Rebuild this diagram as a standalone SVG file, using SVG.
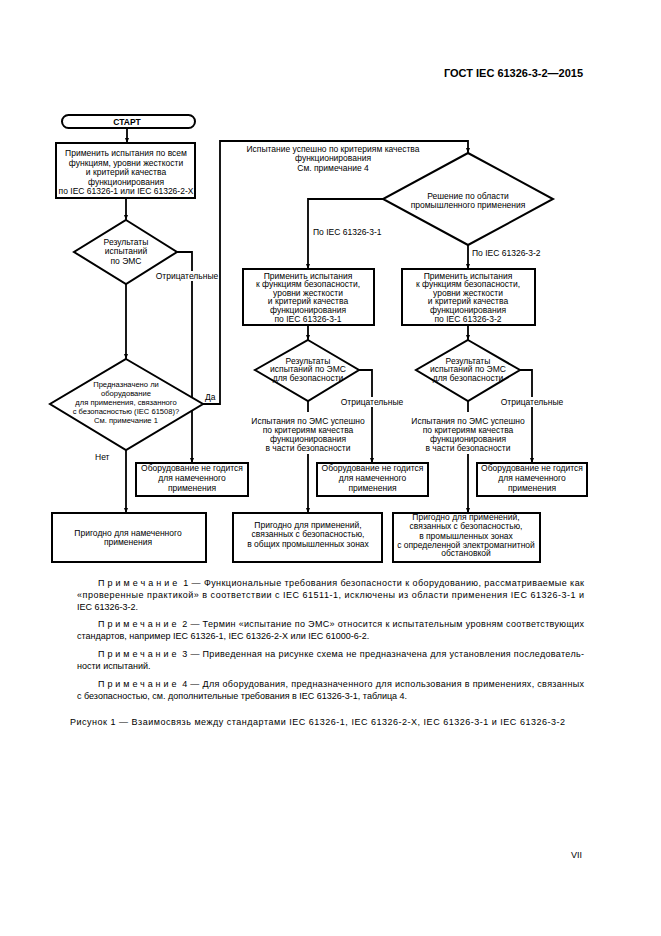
<svg xmlns="http://www.w3.org/2000/svg" width="661" height="936" viewBox="0 0 661 936">
<style>
.t{font-family:"Liberation Sans",Arial,sans-serif;font-size:8.5px;fill:#000;text-anchor:middle}
.s{font-size:7.6px}
.l{text-anchor:start}
.b{font-weight:bold}
.box{fill:#fff;stroke:#000;stroke-width:2}
.ln{fill:none;stroke:#000;stroke-width:1.8}
.arr{marker-end:url(#ah)}
.n{font-family:"Liberation Sans",Arial,sans-serif;font-size:9px;fill:#000}
.sp{letter-spacing:2.6px}
</style>
<defs>
<marker id="ah" viewBox="0 0 10 10" refX="10" refY="5" markerWidth="5" markerHeight="5" orient="auto" markerUnits="userSpaceOnUse"><path d="M0,1 L10,5 L0,9 z" fill="#000"/></marker>
</defs>
<rect width="661" height="936" fill="#fff"/>
<text class="t b" x="583" y="77" style="font-size:11px;text-anchor:end">ГОСТ IEC 61326-3-2—2015</text>

<g id="connectors">
<path class="ln arr" d="M127,128 V143"/>
<path class="ln arr" d="M126,198 V220"/>
<path class="ln arr" d="M126,284 V359"/>
<path class="ln arr" d="M177,252 H192 V463"/>
<path class="ln arr" d="M203,404 H220 V141 H468 V153"/>
<path class="ln arr" d="M383,199 H308 V269"/>
<path class="ln arr" d="M468,245 V269"/>
<path class="ln arr" d="M308,325 V340"/>
<path class="ln arr" d="M468,325 V340"/>
<path class="ln arr" d="M359,370 H372 V463"/>
<path class="ln arr" d="M520,370 H532 V463"/>
<path class="ln arr" d="M126,450 V513"/>
<path class="ln" d="M308,401 V412"/>
<path class="ln arr" d="M308,454 V513"/>
<path class="ln" d="M468,401 V412"/>
<path class="ln arr" d="M468,454 V513"/>
</g>

<g id="start">
<rect class="box" x="62" y="115" width="133" height="13" rx="6.5"/>
<text class="t b" x="127" y="124.5">СТАРТ</text>
</g>

<g id="box1">
<rect class="box" x="56" y="143" width="139" height="55"/>
<text class="t" x="126" y="156">Применить испытания по всем</text>
<text class="t" x="126" y="165.5">функциям, уровни жесткости</text>
<text class="t" x="126" y="175">и критерий качества</text>
<text class="t" x="126" y="184.5">функционирования</text>
<text class="t" x="126" y="194">по IEC 61326-1 или IEC 61326-2-X</text>
</g>

<g id="dec1">
<polygon class="box" points="126,220 177,252 126,284 74,252"/>
<text class="t" x="126" y="244.5">Результаты</text>
<text class="t" x="126" y="254">испытаний</text>
<text class="t" x="126" y="263.5">по ЭМС</text>
</g>

<g id="lbl-neg1">
<rect x="156" y="271" width="62" height="10" fill="#fff"/>
<text class="t" x="187" y="279">Отрицательные</text>
</g>

<g id="dec2">
<polygon class="box" points="126,359 203,404 126,450 50,404"/>
<text class="t s" x="126" y="386.5">Предназначено ли</text>
<text class="t s" x="126" y="395.5">оборудование</text>
<text class="t s" x="126" y="404.5">для применения, связанного</text>
<text class="t s" x="126" y="413.5">с безопасностью (IEC 61508)?</text>
<text class="t s" x="126" y="422.5">См. примечание 1</text>
</g>
<g id="lbl-yes"><text class="t l" x="205" y="400">Да</text></g>
<g id="lbl-no"><text class="t l" x="95" y="460">Нет</text></g>

<g id="lbl-success-top">
<text class="t" x="333" y="151.5">Испытание успешно по критериям качества</text>
<text class="t" x="333" y="161">функционирования</text>
<text class="t" x="333" y="170.5">См. примечание 4</text>
</g>

<g id="dec3">
<polygon class="box" points="468,153 553,199 468,245 383,199"/>
<text class="t" x="468" y="199">Решение по области</text>
<text class="t" x="468" y="208">промышленного применения</text>
</g>
<g id="lbl-31"><text class="t l" x="313" y="235">По IEC 61326-3-1</text></g>
<g id="lbl-32"><text class="t l" x="472" y="256">По IEC 61326-3-2</text></g>

<g id="box31">
<rect class="box" x="243" y="269" width="131" height="56"/>
<text class="t" x="308" y="278.5">Применить испытания</text>
<text class="t" x="308" y="287">к функциям безопасности,</text>
<text class="t" x="308" y="295.5">уровни жесткости</text>
<text class="t" x="308" y="304">и критерий качества</text>
<text class="t" x="308" y="313">функционирования</text>
<text class="t" x="308" y="321.5">по IEC 61326-3-1</text>
</g>

<g id="box32">
<rect class="box" x="402" y="269" width="133" height="56"/>
<text class="t" x="468" y="278.5">Применить испытания</text>
<text class="t" x="468" y="287">к функциям безопасности,</text>
<text class="t" x="468" y="295.5">уровни жесткости</text>
<text class="t" x="468" y="304">и критерий качества</text>
<text class="t" x="468" y="313">функционирования</text>
<text class="t" x="468" y="321.5">по IEC 61326-3-2</text>
</g>

<g id="dec31">
<polygon class="box" points="308,340 359,370 308,401 255,370"/>
<text class="t" x="308" y="363.5">Результаты</text>
<text class="t" x="308" y="372">испытаний по ЭМС</text>
<text class="t" x="308" y="380.5">для безопасности</text>
</g>

<g id="dec32">
<polygon class="box" points="468,340 520,370 468,401 416,370"/>
<text class="t" x="468" y="363.5">Результаты</text>
<text class="t" x="468" y="372">испытаний по ЭМС</text>
<text class="t" x="468" y="380.5">для безопасности</text>
</g>

<g id="lbl-neg2">
<rect x="341" y="397" width="62" height="10" fill="#fff"/>
<text class="t" x="372" y="405">Отрицательные</text>
</g>
<g id="lbl-neg3">
<rect x="501" y="397" width="62" height="10" fill="#fff"/>
<text class="t" x="532" y="405">Отрицательные</text>
</g>

<g id="lbl-ok31">
<text class="t" x="308" y="423.5">Испытания по ЭМС успешно</text>
<text class="t" x="308" y="432.5">по критериям качества</text>
<text class="t" x="308" y="441.5">функционирования</text>
<text class="t" x="308" y="450.5">в части безопасности</text>
</g>
<g id="lbl-ok32">
<text class="t" x="468" y="423.5">Испытания по ЭМС успешно</text>
<text class="t" x="468" y="432.5">по критериям качества</text>
<text class="t" x="468" y="441.5">функционирования</text>
<text class="t" x="468" y="450.5">в части безопасности</text>
</g>

<g id="unfit1">
<rect class="box" x="136" y="463" width="112" height="33"/>
<text class="t" x="192" y="470.5">Оборудование не годится</text>
<text class="t" x="192" y="481">для намеченного</text>
<text class="t" x="192" y="491">применения</text>
</g>
<g id="unfit2">
<rect class="box" x="317" y="463" width="111" height="33"/>
<text class="t" x="372.5" y="470.5">Оборудование не годится</text>
<text class="t" x="372.5" y="481">для намеченного</text>
<text class="t" x="372.5" y="491">применения</text>
</g>
<g id="unfit3">
<rect class="box" x="477" y="463" width="110" height="33"/>
<text class="t" x="532" y="470.5">Оборудование не годится</text>
<text class="t" x="532" y="481">для намеченного</text>
<text class="t" x="532" y="491">применения</text>
</g>

<g id="fit1">
<rect class="box" x="52" y="513" width="154" height="49"/>
<text class="t" x="128" y="535.5">Пригодно для намеченного</text>
<text class="t" x="128" y="545">применения</text>
</g>
<g id="fit2">
<rect class="box" x="233" y="513" width="149" height="49"/>
<text class="t" x="308" y="527.5">Пригодно для применений,</text>
<text class="t" x="308" y="537">связанных с безопасностью,</text>
<text class="t" x="308" y="546.5">в общих промышленных зонах</text>
</g>
<g id="fit3">
<rect class="box" x="393" y="513" width="147" height="49"/>
<text class="t" x="466" y="520">Пригодно для применений,</text>
<text class="t" x="466" y="529">связанных с безопасностью,</text>
<text class="t" x="466" y="538.5">в промышленных зонах</text>
<text class="t" x="466" y="547.5">с определенной электромагнитной</text>
<text class="t" x="466" y="556">обстановкой</text>
</g>

<g id="notes">
<text class="n" x="98" y="586" textLength="486" lengthAdjust="spacing"><tspan class="sp">Примечание</tspan> 1 — Функциональные требования безопасности к оборудованию, рассматриваемые как</text>
<text class="n" x="77" y="598" textLength="507" lengthAdjust="spacing">«проверенные практикой» в соответствии с IEC 61511-1, исключены из области применения IEC 61326-3-1 и</text>
<text class="n" x="77" y="610">IEC 61326-3-2.</text>
<text class="n" x="98" y="627" textLength="486" lengthAdjust="spacing"><tspan class="sp">Примечание</tspan> 2 — Термин «испытание по ЭМС» относится к испытательным уровням соответствующих</text>
<text class="n" x="77" y="639">стандартов, например IEC 61326-1, IEC 61326-2-X или IEC 61000-6-2.</text>
<text class="n" x="98" y="657" textLength="486" lengthAdjust="spacing"><tspan class="sp">Примечание</tspan> 3 — Приведенная на рисунке схема не предназначена для установления последователь-</text>
<text class="n" x="77" y="669">ности испытаний.</text>
<text class="n" x="98" y="687" textLength="486" lengthAdjust="spacing"><tspan class="sp">Примечание</tspan> 4 — Для оборудования, предназначенного для использования в применениях, связанных</text>
<text class="n" x="77" y="699">с безопасностью, см. дополнительные требования в IEC 61326-3-1, таблица 4.</text>
<text class="n" x="70" y="725" textLength="495" lengthAdjust="spacing">Рисунок  1 — Взаимосвязь между стандартами IEC 61326-1, IEC 61326-2-X, IEC 61326-3-1 и IEC 61326-3-2</text>
<text class="n" x="571" y="858">VII</text>
</g>
</svg>
